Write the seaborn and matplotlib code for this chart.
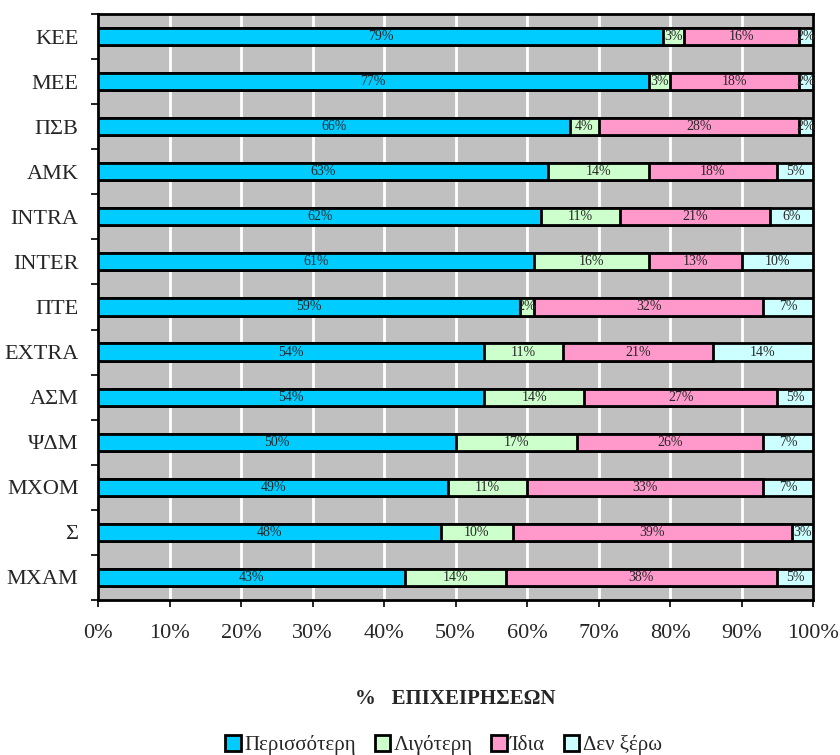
import numpy as np
import pandas as pd
import seaborn as sns
import matplotlib.pyplot as plt
from matplotlib.patches import Patch

# Data
categories = ['ΚΕΕ', 'ΜΕΕ', 'ΠΣΒ', 'ΑΜΚ', 'INTRA', 'INTER', 'ΠΤΕ',
              'EXTRA', 'ΑΣΜ', 'ΨΔΜ', 'ΜΧΟΜ', 'Σ', 'ΜΧΑΜ']
more = [79, 77, 66, 63, 62, 61, 59, 54, 54, 50, 49, 48, 43]
less = [3, 3, 4, 14, 11, 16, 2, 11, 14, 17, 11, 10, 14]
same = [16, 18, 28, 18, 21, 13, 32, 21, 27, 26, 33, 39, 38]
dont_know = [2, 2, 2, 5, 6, 10, 7, 14, 5, 7, 7, 3, 5]

series_names = ['Περισσότερη', 'Λιγότερη', 'Ίδια', 'Δεν ξέρω']
colors = ['#00CCFF', '#CCFFCC', '#FF99CC', '#CCFFFF']

df = pd.DataFrame({'cat': categories, 'more': more, 'less': less,
                   'same': same, 'dk': dont_know})
cols = ['more', 'less', 'same', 'dk']
cum = df[cols].cumsum(axis=1) / 100.0

sns.set_style('white')
plt.rcParams['font.family'] = ['Liberation Serif', 'DejaVu Serif']

fig = plt.figure(figsize=(8.4, 7.55), dpi=100)
ax = fig.add_axes([0.1167, 0.2053, 0.8512, 0.7762])
ax.set_facecolor('#C0C0C0')

# stacked bars: draw cumulative totals from the longest down
for col, color in reversed(list(zip(cols, colors))):
    sns.barplot(x=cum[col], y=df['cat'], color=color, orient='h', width=0.38,
                edgecolor='black', linewidth=2, saturation=1, ax=ax, zorder=3)

# segment labels
for i in range(len(df)):
    left = 0.0
    for col in cols:
        v = df.loc[i, col] / 100.0
        ax.text(left + v / 2, i, f'{df.loc[i, col]}%', ha='center', va='center',
                fontsize=10, zorder=5)
        left += v

ax.set_xlim(0, 1)
ax.set_ylim(12.5, -0.5)
ticks = np.arange(0, 1.01, 0.1)
ax.set_xticks(ticks)
ax.set_xticklabels([f'{int(round(t * 100))}%' for t in ticks], fontsize=16)
ax.set_yticks(range(len(categories)))
ax.set_yticklabels(categories, fontsize=16)
ax.set_yticks(np.arange(-0.5, 12.6, 1), minor=True)
ax.tick_params(axis='y', which='major', length=0, pad=14)
ax.tick_params(axis='y', which='minor', length=5, width=1.2, direction='out', color='black', left=True)
ax.tick_params(axis='x', length=5, width=1.2, direction='out', color='black', bottom=True, pad=12)

ax.grid(axis='x', color='white', linewidth=2, zorder=0)
ax.set_axisbelow(True)
for s in ax.spines.values():
    s.set_color('black')
    s.set_linewidth(2)

ax.set_ylabel('')
ax.set_xlabel('%   ΕΠΙΧΕΙΡΗΣΕΩΝ', fontsize=15, fontweight='bold')
ax.xaxis.set_label_coords(0.5, -0.152)

handles = [Patch(facecolor=c, edgecolor='black', linewidth=2) for c in colors]
fig.legend(handles, series_names, loc='center', bbox_to_anchor=(0.528, 0.013),
           ncol=4, frameon=False, fontsize=15, handlelength=0.75, handleheight=0.75,
           handletextpad=0.15, columnspacing=0.9)

fig.savefig('out.png', dpi=100)
